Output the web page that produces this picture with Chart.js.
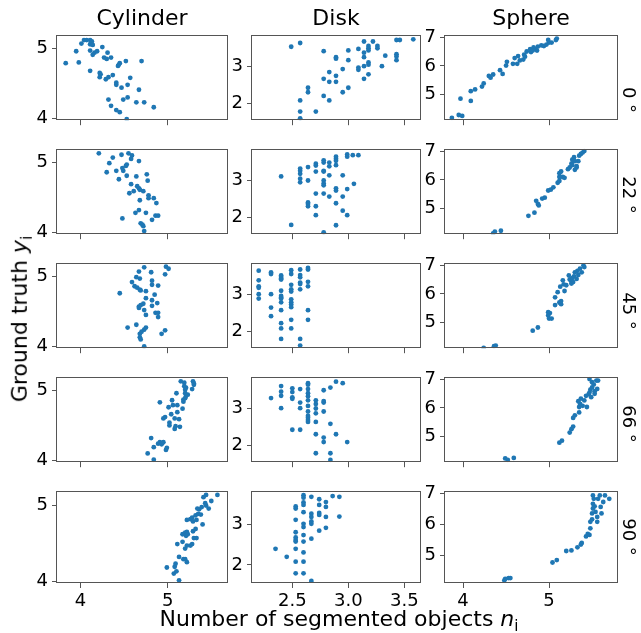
<!DOCTYPE html>
<html>
<head>
<meta charset="utf-8">
<script src="https://cdn.jsdelivr.net/npm/chart.js@4"></script>
<style>
  body { margin: 0; background: #fff; }
  #fig { position: relative; width: 641px; height: 633px; font-family: "DejaVu Sans", sans-serif; color: #000; }
  #fig canvas { position: absolute; }
  .lbl { position: absolute; white-space: nowrap; line-height: 1; }
</style>
</head>
<body>
<div id="fig"></div>
<script>
const shapes = ["Cylinder", "Disk", "Sphere"];
const angles = ["0", "22", "45", "66", "90"];
const xTicks = [[4, 5], [2.5, 3.0, 3.5], [4, 5]];
const yTicks = [[4, 5], [2, 3], [5, 6, 7]];
const xLimits = [[3.73, 5.68], [2.14, 3.64], [3.79, 5.79]];
const yLimits = [[3.975, 5.195], [1.55, 3.84], [4.11, 7.08]];

// 0 deg
const cyl0 = [[3.83,4.79],[3.95,4.96],[3.98,4.80],[4.01,5.07],[4.04,5.12],[4.07,5.12],[4.11,5.12],[4.13,5.10],[4.11,5.06],[4.14,5.05],[4.11,4.97],[4.14,4.91],[4.16,4.94],[4.19,4.96],[4.25,5.02],[4.31,4.94],[4.27,4.87],[4.30,4.85],[4.35,4.87],[4.45,4.79],[4.43,4.75],[4.44,4.77],[4.52,4.82],[4.70,4.82],[4.11,4.68],[4.22,4.65],[4.23,4.63],[4.22,4.59],[4.29,4.56],[4.32,4.59],[4.37,4.62],[4.41,4.51],[4.41,4.48],[4.47,4.44],[4.54,4.48],[4.57,4.58],[4.67,4.41],[4.32,4.27],[4.49,4.27],[4.54,4.30],[4.64,4.23],[4.73,4.23],[4.84,4.16],[4.35,4.18],[4.41,4.12],[4.45,4.09],[4.53,3.99]];
const disk0 = [[2.49,3.52],[2.57,3.62],[2.57,2.08],[2.57,1.78],[2.57,1.60],[2.64,2.42],[2.64,2.30],[2.71,1.78],[2.78,3.40],[2.78,2.66],[2.78,2.20],[2.83,2.84],[2.83,2.58],[2.83,2.08],[2.89,3.24],[2.89,3.20],[2.89,2.74],[2.89,2.58],[2.95,2.92],[2.95,2.30],[3.00,3.42],[3.00,3.16],[3.00,2.42],[3.09,3.46],[3.09,2.96],[3.09,2.90],[3.14,3.66],[3.14,3.36],[3.14,3.24],[3.14,3.00],[3.14,2.66],[3.18,3.54],[3.18,3.48],[3.18,3.42],[3.18,3.10],[3.18,3.04],[3.18,2.78],[3.22,3.66],[3.26,3.54],[3.26,3.48],[3.30,3.00],[3.33,3.28],[3.43,3.70],[3.46,3.70],[3.43,3.32],[3.43,3.26],[3.43,3.16],[3.58,3.72]];
const sph0 = [[3.87,4.19],[3.95,4.29],[3.99,4.26],[3.97,4.86],[4.09,4.78],[4.09,5.12],[4.14,5.18],[4.22,5.28],[4.24,5.39],[4.30,5.65],[4.32,5.59],[4.35,5.70],[4.43,5.85],[4.46,5.72],[4.50,6.01],[4.51,6.14],[4.58,6.07],[4.63,6.07],[4.60,6.27],[4.64,6.34],[4.70,6.22],[4.71,6.39],[4.74,6.50],[4.78,6.58],[4.79,6.48],[4.82,6.64],[4.84,6.58],[4.86,6.53],[4.87,6.67],[4.91,6.71],[4.94,6.69],[4.97,6.74],[5.00,6.81],[4.99,6.90],[5.03,6.81],[5.08,6.90],[5.09,6.95],[4.66,6.19],[4.72,6.32],[4.81,6.53]];

// 22 deg
const cyl22 = [[4.21,5.13],[4.37,5.07],[4.33,4.99],[4.30,4.86],[4.41,4.88],[4.47,5.11],[4.48,4.92],[4.49,4.88],[4.52,4.95],[4.53,4.97],[4.55,5.13],[4.59,5.10],[4.58,5.05],[4.67,5.02],[4.44,4.76],[4.53,4.81],[4.64,4.80],[4.76,4.83],[4.77,4.74],[4.58,4.69],[4.65,4.66],[4.67,4.63],[4.68,4.61],[4.61,4.59],[4.56,4.56],[4.72,4.59],[4.78,4.53],[4.78,4.49],[4.84,4.49],[4.87,4.42],[4.68,4.46],[4.67,4.32],[4.63,4.28],[4.75,4.28],[4.86,4.24],[4.89,4.24],[4.82,4.18],[4.48,4.20],[4.69,4.13],[4.71,4.11],[4.72,4.09],[4.73,4.02]];
const disk22 = [[2.40,3.10],[2.49,1.80],[2.57,3.31],[2.57,3.25],[2.57,3.17],[2.57,3.04],[2.57,2.94],[2.64,3.35],[2.64,2.99],[2.64,2.40],[2.64,2.36],[2.64,2.30],[2.71,3.44],[2.71,3.39],[2.71,3.23],[2.71,2.64],[2.71,2.30],[2.71,2.06],[2.78,3.53],[2.78,3.47],[2.78,3.25],[2.78,3.23],[2.78,2.99],[2.78,2.91],[2.78,2.86],[2.78,2.64],[2.78,1.60],[2.83,3.47],[2.83,3.37],[2.83,3.13],[2.83,2.56],[2.89,3.63],[2.89,3.57],[2.89,3.52],[2.89,3.40],[2.89,2.78],[2.89,2.72],[2.89,2.38],[2.89,1.79],[2.95,3.13],[2.95,2.56],[2.95,2.18],[2.99,3.69],[2.99,3.63],[2.99,2.76],[2.99,2.06],[3.04,3.67],[3.09,3.67],[3.05,2.90]];
const sph22 = [[4.35,4.14],[4.37,4.20],[4.44,4.23],[4.76,4.75],[4.83,4.86],[4.85,5.27],[4.87,5.16],[4.88,5.11],[4.92,5.35],[4.95,5.38],[4.99,5.63],[5.02,5.66],[5.05,5.74],[5.10,5.90],[5.12,6.10],[5.12,6.23],[5.14,6.29],[5.16,6.10],[5.18,6.07],[5.12,5.96],[5.22,6.37],[5.24,6.43],[5.26,6.56],[5.27,6.70],[5.29,6.79],[5.30,6.65],[5.32,6.48],[5.34,6.65],[5.32,6.43],[5.35,6.84],[5.37,6.90],[5.39,6.95],[5.41,7.00],[5.27,6.51],[5.30,6.35]];

// 45 deg
const cyl45 = [[4.45,4.76],[4.54,4.27],[4.59,4.92],[4.62,4.86],[4.64,4.99],[4.65,4.84],[4.67,5.07],[4.68,4.97],[4.68,4.81],[4.67,4.57],[4.67,4.55],[4.69,4.59],[4.69,4.80],[4.64,4.31],[4.68,4.18],[4.68,4.13],[4.69,4.10],[4.73,5.13],[4.72,4.61],[4.73,4.52],[4.75,4.45],[4.75,4.69],[4.75,4.79],[4.75,4.27],[4.73,4.24],[4.70,4.21],[4.73,4.00],[4.81,5.06],[4.82,4.94],[4.82,4.88],[4.82,4.66],[4.82,4.58],[4.85,4.74],[4.86,4.48],[4.88,4.62],[4.89,4.87],[4.89,4.48],[4.89,4.42],[4.93,4.18],[4.97,4.23],[4.97,5.03],[4.98,5.14],[5.01,5.11]];
const disk45 = [[2.20,3.63],[2.20,3.37],[2.20,3.21],[2.20,3.17],[2.20,3.00],[2.20,2.88],[2.31,3.58],[2.31,3.54],[2.31,3.00],[2.31,2.64],[2.31,2.41],[2.40,3.50],[2.40,3.46],[2.40,3.42],[2.40,3.39],[2.40,3.09],[2.40,2.95],[2.40,2.91],[2.40,2.88],[2.40,2.78],[2.40,2.57],[2.40,2.22],[2.40,2.08],[2.40,1.80],[2.49,3.64],[2.49,3.54],[2.49,3.25],[2.49,3.13],[2.49,3.07],[2.49,2.86],[2.49,2.78],[2.49,2.72],[2.49,2.65],[2.49,2.31],[2.49,2.08],[2.57,3.66],[2.57,3.51],[2.57,3.45],[2.57,3.31],[2.57,3.27],[2.57,3.13],[2.57,1.80],[2.57,1.62],[2.64,3.70],[2.64,3.66],[2.64,3.33],[2.64,3.21],[2.64,2.57],[2.64,2.31]];
const sph45 = [[4.24,4.12],[4.36,4.18],[4.38,4.20],[4.81,4.72],[4.87,4.83],[4.99,5.36],[4.99,5.25],[5.00,5.14],[5.01,5.33],[5.03,5.14],[5.07,5.61],[5.07,5.88],[5.10,6.06],[5.12,5.70],[5.14,5.64],[5.14,5.75],[5.13,6.25],[5.16,6.47],[5.17,6.33],[5.18,6.10],[5.20,6.30],[5.23,6.64],[5.24,6.50],[5.26,6.44],[5.27,6.55],[5.29,6.61],[5.30,6.75],[5.32,6.52],[5.33,6.80],[5.34,6.66],[5.36,6.88],[5.38,6.75],[5.40,6.99],[5.41,6.93],[5.26,6.36],[5.28,6.41]];

// 66 deg
const cyl66 = [[4.81,4.32],[4.77,4.10],[4.84,4.01],[4.84,4.19],[4.89,4.24],[4.91,4.26],[4.93,4.23],[4.95,4.26],[4.98,4.15],[4.99,4.18],[4.91,4.83],[4.95,4.60],[4.97,4.62],[5.01,4.76],[5.02,4.54],[5.02,4.50],[5.04,4.66],[5.05,4.86],[5.06,4.79],[5.08,4.60],[5.08,4.45],[5.09,4.49],[5.11,4.79],[5.11,4.69],[5.10,4.96],[5.13,4.59],[5.14,4.48],[5.15,5.13],[5.17,4.74],[5.18,4.87],[5.18,4.84],[5.19,5.11],[5.19,5.06],[5.20,5.01],[5.21,5.04],[5.20,4.96],[5.21,4.92],[5.20,4.89],[5.23,4.94],[5.28,5.02],[5.29,5.13],[5.30,5.08],[5.30,5.10]];
const disk66 = [[2.31,3.27],[2.40,3.59],[2.40,3.44],[2.40,3.33],[2.40,3.00],[2.50,3.53],[2.50,3.43],[2.50,3.29],[2.50,3.25],[2.50,2.42],[2.57,3.51],[2.57,3.15],[2.57,3.00],[2.57,2.42],[2.64,3.67],[2.64,3.63],[2.64,3.51],[2.64,3.40],[2.64,3.32],[2.64,3.21],[2.64,3.06],[2.64,2.91],[2.64,2.79],[2.64,2.74],[2.64,2.68],[2.64,2.63],[2.71,3.21],[2.71,3.11],[2.71,2.99],[2.71,2.86],[2.71,2.63],[2.71,2.30],[2.71,1.79],[2.78,3.48],[2.78,3.19],[2.78,3.15],[2.78,2.91],[2.78,2.21],[2.78,2.09],[2.84,3.55],[2.84,2.58],[2.84,1.79],[2.84,1.61],[2.89,3.71],[2.89,2.30],[2.95,3.67],[2.99,2.09]];
const sph66 = [[4.49,4.24],[4.52,4.19],[4.59,4.26],[5.12,4.79],[5.15,4.86],[5.24,5.14],[5.26,5.26],[5.28,5.35],[5.28,5.65],[5.30,5.74],[5.35,5.84],[5.35,6.03],[5.34,6.23],[5.36,6.14],[5.37,6.32],[5.39,6.07],[5.41,6.26],[5.43,6.42],[5.44,6.03],[5.46,6.47],[5.47,6.53],[5.48,6.63],[5.49,6.37],[5.50,6.71],[5.47,7.00],[5.50,6.89],[5.52,6.81],[5.53,6.58],[5.55,6.95],[5.56,6.66],[5.57,6.95],[5.53,6.49]];

// 90 deg
const cyl90 = [[4.99,4.18],[5.08,4.19],[5.09,4.23],[5.07,4.10],[5.10,4.13],[5.13,4.01],[5.13,4.32],[5.18,4.29],[5.20,4.29],[5.22,4.25],[5.11,4.49],[5.17,4.52],[5.17,4.62],[5.20,4.64],[5.21,4.60],[5.22,4.65],[5.20,4.43],[5.22,4.47],[5.23,4.62],[5.26,4.47],[5.28,4.49],[5.29,4.66],[5.30,4.57],[5.33,4.57],[5.32,4.69],[5.22,4.81],[5.26,4.82],[5.28,4.84],[5.29,4.79],[5.33,4.81],[5.32,4.87],[5.35,4.89],[5.36,4.95],[5.34,4.96],[5.40,4.75],[5.38,4.88],[5.39,4.98],[5.43,5.03],[5.44,5.00],[5.47,4.96],[5.41,5.11],[5.44,5.14],[5.50,5.06],[5.57,5.14]];
const disk90 = [[2.35,2.40],[2.45,2.20],[2.53,3.45],[2.53,3.40],[2.53,3.12],[2.53,2.81],[2.53,2.68],[2.53,2.62],[2.53,2.58],[2.53,2.40],[2.53,2.08],[2.53,1.79],[2.60,3.73],[2.60,3.67],[2.60,3.55],[2.60,3.49],[2.60,3.31],[2.60,3.02],[2.60,2.94],[2.60,2.74],[2.60,2.58],[2.60,2.31],[2.60,2.08],[2.60,1.79],[2.67,3.69],[2.67,3.27],[2.67,3.19],[2.67,3.08],[2.67,3.02],[2.67,2.65],[2.67,1.60],[2.74,3.63],[2.74,3.49],[2.74,3.29],[2.74,3.24],[2.74,2.85],[2.80,3.56],[2.80,3.44],[2.80,3.19],[2.80,2.92],[2.86,3.71],[2.92,3.69],[2.92,3.20]];
const sph90 = [[4.48,4.19],[4.49,4.24],[4.53,4.27],[4.55,4.27],[5.04,4.77],[5.09,4.85],[5.20,5.14],[5.26,5.16],[5.33,5.26],[5.37,5.35],[5.38,5.40],[5.43,5.61],[5.45,5.69],[5.47,5.66],[5.48,5.87],[5.48,6.08],[5.50,6.16],[5.50,6.35],[5.51,6.51],[5.51,6.66],[5.51,6.93],[5.52,6.82],[5.53,6.58],[5.54,6.40],[5.56,6.24],[5.56,6.08],[5.57,6.82],[5.59,6.93],[5.60,6.56],[5.61,6.35],[5.63,6.72],[5.65,6.93],[5.70,6.82]];

const panels = [
  [cyl0, disk0, sph0],
  [cyl22, disk22, sph22],
  [cyl45, disk45, sph45],
  [cyl66, disk66, sph66],
  [cyl90, disk90, sph90],
];

// layout of the axes boxes
const colLeft = [57, 252, 445];
const colWidth = [170, 168, 172];
const rowTop = [32, 146, 260, 374, 488];
const boxH = 95;
const yAxisW = 40, padTop = 12, padRight = 8;
const rowLabelShift = [20, 1, 3, 2, 1];

Chart.defaults.font.family = "DejaVu Sans";
Chart.defaults.font.size = 18;
Chart.defaults.color = "#000";

const boxPlugin = {
  id: "box",
  afterDraw(chart) {
    const a = chart.chartArea;
    const c = chart.ctx;
    c.save();
    c.strokeStyle = "#555";
    c.lineWidth = 1;
    c.strokeRect(Math.round(a.left) - 0.5, Math.round(a.top) + 0.5,
      Math.round(a.right - a.left) + 1, Math.round(a.bottom - a.top) - 1);
    c.restore();
  },
};

const fig = document.getElementById("fig");

function label(text, css) {
  const d = document.createElement("div");
  d.className = "lbl";
  d.innerHTML = text;
  Object.assign(d.style, css);
  fig.appendChild(d);
  return d;
}

panels.forEach((row, r) => {
  row.forEach((pts, c) => {
    const bottomRow = r === panels.length - 1;
    const xh = bottomRow ? 34 : 8;
    const cv = document.createElement("canvas");
    const w = colWidth[c] + yAxisW + padRight;
    const h = boxH + padTop + xh;
    cv.width = w;
    cv.height = h;
    cv.style.left = (colLeft[c] - yAxisW) + "px";
    cv.style.top = (rowTop[r] - padTop) + "px";
    fig.appendChild(cv);

    new Chart(cv, {
      type: "scatter",
      data: {
        datasets: [{
          data: pts.map((p) => ({ x: p[0], y: p[1] })),
          backgroundColor: "#1f77b4",
          borderWidth: 0,
          pointRadius: 2.4,
        }],
      },
      options: {
        responsive: false,
        animation: false,
        layout: { padding: { top: padTop, right: padRight, left: 0, bottom: 0 } },
        plugins: { legend: { display: false }, tooltip: { enabled: false } },
        scales: {
          x: {
            min: xLimits[c][0],
            max: xLimits[c][1],
            afterBuildTicks: (s) => { s.ticks = xTicks[c].map((v) => ({ value: v })); },
            afterFit: (s) => { s.height = xh; },
            ticks: {
              display: bottomRow,
              padding: 3,
              maxRotation: 0,
              callback: (v) => (c === 1 ? v.toFixed(1) : String(v)),
            },
            grid: { drawOnChartArea: false, tickLength: 5, color: "#555" },
            border: { display: false },
          },
          y: {
            min: yLimits[c][0],
            max: yLimits[c][1],
            afterBuildTicks: (s) => { s.ticks = yTicks[c].map((v) => ({ value: v })); },
            afterFit: (s) => { s.width = yAxisW; },
            ticks: { padding: 4 },
            grid: { drawOnChartArea: false, tickLength: 5, color: "#555" },
            border: { display: false },
          },
        },
      },
      plugins: [boxPlugin],
    });
  });
});

// column titles
shapes.forEach((s, c) => {
  const d = label(s, { fontSize: "22px", top: "7px" });
  d.style.left = (colLeft[c] + colWidth[c] / 2) + "px";
  d.style.transform = "translateX(-50%)";
});

// row labels on the right
angles.forEach((a, r) => {
  const d = label(a + " °", { fontSize: "18px" });
  d.style.left = "629px";
  d.style.top = (rowTop[r] + boxH / 2 + rowLabelShift[r]) + "px";
  d.style.transform = "translate(-50%, -50%) rotate(90deg)";
});

// axis titles
const xl = label('Number of segmented objects <i>n</i><sub style="font-size:15px">i</sub>', { fontSize: "22px" });
xl.style.left = "339px";
xl.style.top = "608px";
xl.style.transform = "translateX(-50%)";

const yl = label('Ground truth <i>y</i><sub style="font-size:15px">i</sub>', { fontSize: "22px" });
yl.style.left = "22px";
yl.style.top = "319px";
yl.style.transform = "translate(-50%, -50%) rotate(-90deg)";
</script>
</body>
</html>
